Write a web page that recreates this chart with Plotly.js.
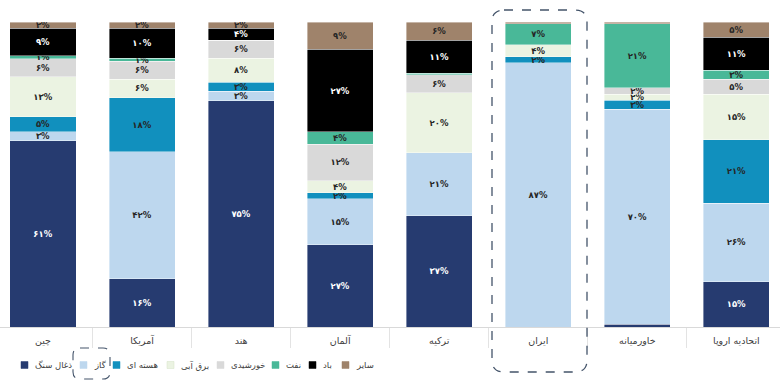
<!DOCTYPE html>
<html>
<head>
<meta charset="utf-8">
<script src="https://cdn.plot.ly/plotly-3.0.1.min.js"></script>
<style>
  html, body { margin: 0; padding: 0; background: #ffffff; }
  #chart { width: 780px; height: 380px; }
</style>
</head>
<body>
<div id="chart"></div>
<script>
// ---- data (percent share of electricity generation by source) ----
const categories = ['چین', 'آمریکا', 'هند', 'آلمان', 'ترکیه', 'ایران', 'خاورمیانه', 'اتحادیه اروپا'];

const seriesNames = ['ذغال سنگ', 'گاز', 'هسته ای', 'برق آبی', 'خورشیدی', 'نفت', 'باد', 'سایر'];

const coal    = [61, 16, 75, 27, 37, 0,   0.9, 15];
const gas     = [3,  42, 3,  15, 21, 87,  70,  26];
const nuclear = [5,  18, 3,  2,  0,  2,   3,   21];
const hydro   = [13, 6,  8,  4,  20, 4,   2,   15];
const solar   = [6,  6,  6,  12, 6,  0,   2,   5];
const oil     = [1,  1,  0,  4,  0.5, 7,  21,  3];
const wind    = [9,  10, 4,  27, 11, 0,   0,   11];
const other   = [2,  2,  2,  9,  6,  0.5, 0.5, 5];

const seriesValues = [coal, gas, nuclear, hydro, solar, oil, wind, other];

// ---- styling ----
const colors = ['#263b70', '#bdd7ee', '#1190be', '#ebf3e2', '#d9d9d9', '#49b898', '#000000', '#9f836b'];
const textColors = ['#ffffff', '#262626', '#262626', '#262626', '#262626', '#262626', '#ffffff', '#262626'];
const FONT = 'DejaVu Sans, Noto Sans, sans-serif';

const faDigits = ['۰','۱','۲','۳','۴','۵','۶','۷','۸','۹'];
function toFa(n) {
  return String(Math.round(n)).replace(/[0-9]/g, d => faDigits[+d]);
}
function label(v) {
  return v >= 1 ? toFa(v) + '%' : '';
}

const W = 780, H = 380, mt = 22, mb = 53;
const plotH = H - mt - mb;
const px2x = p => p / W;
const px2y = p => (H - mb - p) / plotH;

// legend key layout (pixel positions of each key's text start, reference layout)
const legendTextStart = [33, 92, 125, 179, 229, 284, 321, 354];
const legendY = 365;

const traces = seriesNames.map((name, i) => ({
  type: 'bar',
  name: name,
  x: categories,
  y: seriesValues[i],
  text: seriesValues[i].map(label),
  textposition: 'inside',
  insidetextanchor: 'middle',
  textangle: 0,
  textfont: { family: FONT, size: 8.5, color: textColors[i], weight: 'bold' },
  marker: { color: colors[i], line: { color: '#ffffff', width: 0.4 } },
  showlegend: false,
  hoverinfo: 'skip'
}));

function roundedRect(x0, y0, x1, y1, r) {
  const X0 = px2x(x0), X1 = px2x(x1), Yt = px2y(y0), Yb = px2y(y1);
  const rx = r / W, ry = r / plotH;
  return `M ${X0 + rx},${Yt} L ${X1 - rx},${Yt} Q ${X1},${Yt} ${X1},${Yt - ry} ` +
         `L ${X1},${Yb + ry} Q ${X1},${Yb} ${X1 - rx},${Yb} ` +
         `L ${X0 + rx},${Yb} Q ${X0},${Yb} ${X0},${Yb + ry} ` +
         `L ${X0},${Yt - ry} Q ${X0},${Yt} ${X0 + rx},${Yt} Z`;
}

const shapes = [
  {
    type: 'path', xref: 'paper', yref: 'paper', layer: 'above',
    path: roundedRect(492, 10, 587, 372, 12),
    line: { color: '#44546a', width: 1.3, dash: 'dash' }
  },
  {
    type: 'path', xref: 'paper', yref: 'paper', layer: 'above',
    path: roundedRect(73, 348, 110, 379, 7),
    line: { color: '#44546a', width: 1.1, dash: 'dash' }
  }
];
const annotations = [];

// legend keys (square + name) built from the series names and colours
seriesNames.forEach((name, i) => {
  const t = legendTextStart[i];
  shapes.push({
    type: 'rect', xref: 'paper', yref: 'paper', layer: 'above',
    x0: px2x(t - 12), x1: px2x(t - 5),
    y0: px2y(legendY + 3.5), y1: px2y(legendY - 3.5),
    fillcolor: colors[i],
    line: { color: i === 3 ? '#d5e3c7' : colors[i], width: 0.5 }
  });
  annotations.push({
    xref: 'paper', yref: 'paper',
    x: px2x(t), y: px2y(legendY),
    xanchor: 'left', yanchor: 'middle',
    text: name, showarrow: false,
    font: { family: FONT, size: 8.5, color: '#404040' }
  });
});

const layout = {
  width: W,
  height: H,
  margin: { l: 0, r: 0, t: mt, b: mb, pad: 0 },
  paper_bgcolor: '#ffffff',
  plot_bgcolor: '#ffffff',
  barmode: 'stack',
  barnorm: 'percent',
  bargap: 0.333,
  uniformtext: { mode: 'show', minsize: 8.5 },
  font: { family: FONT, size: 9, color: '#404040' },
  showlegend: false,
  xaxis: {
    type: 'category',
    range: [-0.434, 7.44],
    showgrid: false,
    zeroline: false,
    showline: true,
    linecolor: '#d9d9d9',
    linewidth: 1,
    ticks: 'outside',
    tickson: 'boundaries',
    ticklen: 20,
    tickcolor: '#e3e3e3',
    tickwidth: 1,
    ticklabelstandoff: 5,
    tickfont: { family: FONT, size: 9.5, color: '#404040' },
    fixedrange: true
  },
  yaxis: {
    range: [0, 100],
    visible: false,
    showgrid: false,
    zeroline: false,
    fixedrange: true
  },
  hovermode: false,
  shapes: shapes,
  annotations: annotations
};

Plotly.newPlot('chart', traces, layout, { displayModeBar: false, staticPlot: true });
</script>
</body>
</html>
